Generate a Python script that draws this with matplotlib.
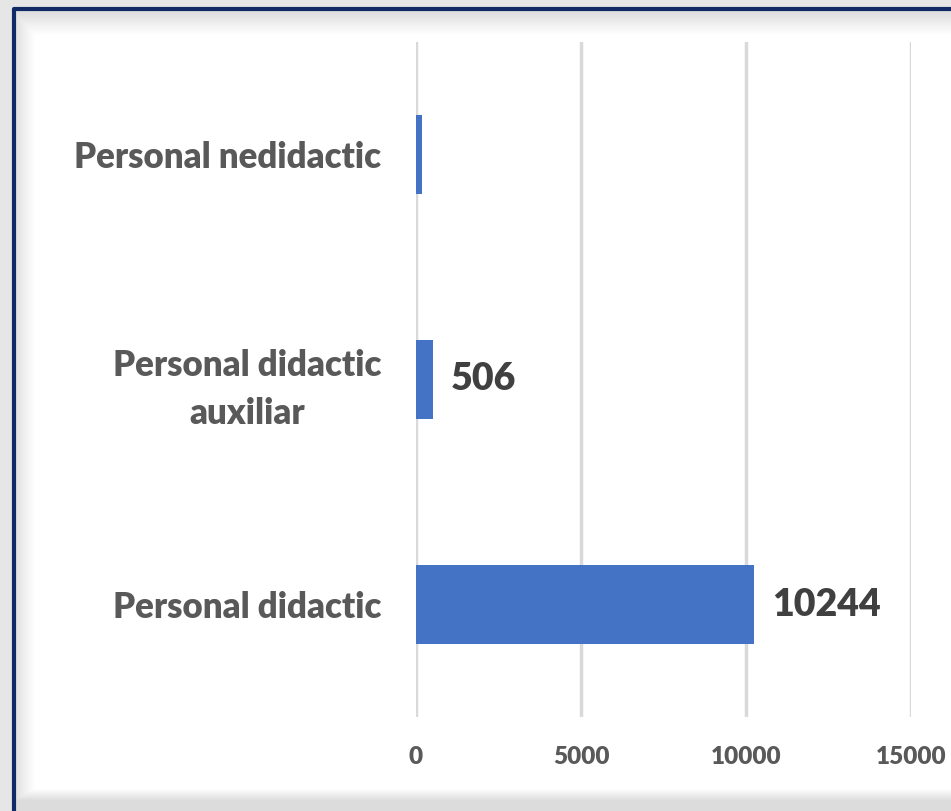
"""Horizontal bar chart: personal didactic / auxiliar / nedidactic."""
import matplotlib.pyplot as plt
import numpy as np

categories = ['Personal didactic', 'Personal didactic\nauxiliar', 'Personal nedidactic']
values = [10244, 506, 170]
value_labels = ['10244', '506', None]
x_ticks = [0, 5000, 10000, 15000]

W, H = 951, 811
fig = plt.figure(figsize=(W / 100, H / 100), dpi=100)
fig.patch.set_facecolor('#e4e4e4')

# background: frame with soft inner shadow
bg = fig.add_axes([0, 0, 1, 1])
bg.set_xlim(0, W)
bg.set_ylim(H, 0)
bg.axis('off')
yy, xx = np.mgrid[0:H, 0:W]
shade = np.ones((H, W))
shade = np.minimum(shade, 0.86 + 0.14 * np.clip((yy - 10) / 25, 0, 1))
shade = np.minimum(shade, 0.88 + 0.12 * np.clip((xx - 15) / 20, 0, 1))
shade = np.minimum(shade, 0.86 + 0.14 * np.clip((800 - yy) / 12, 0, 1))
outer = (xx < 13) | (yy < 8)
shade[outer] = 0.9
bg.imshow(shade, cmap='gray', vmin=0, vmax=1, extent=[0, W, H, 0], aspect='auto')
bg.plot([13.5, 13.5, W + 5], [H + 5, 8.5, 8.5], color='#0f2a64', lw=3, solid_capstyle='butt')

# plot area
left, right = 416 / W, 911 / W
top, bottom = 1 - 42 / H, 1 - 717 / H
ax = fig.add_axes([left, bottom, right - left, top - bottom])
ax.patch.set_alpha(0)

pos = np.arange(len(categories))
ax.barh(pos, values, height=0.355, color='#4472c4', zorder=3)
ax.set_xlim(0, 15000)
ax.set_ylim(-0.5, 2.5)
ax.set_xticks(x_ticks)
ax.set_xticklabels([str(t) for t in x_ticks], family='Lato', fontweight='heavy',
                   fontsize=17.5, color='#595959')
ax.set_yticks(pos)
ax.set_yticklabels(categories, family='Lato', fontweight='heavy', fontsize=25,
                   color='#595959', linespacing=1.52, multialignment='center')
ax.tick_params(axis='both', length=0)
ax.tick_params(axis='y', pad=25)
ax.tick_params(axis='x', pad=21)
ax.grid(axis='x', color='#d9d9d9', lw=2.5, zorder=0)
for s in ax.spines.values():
    s.set_visible(False)

for p, v, lab in zip(pos, values, value_labels):
    if lab:
        ax.annotate(lab, (v, p), xytext=(13, 0), textcoords='offset points',
                    va='center', ha='left', family='Lato', fontweight='heavy',
                    fontsize=27, color='#404040')

fig.savefig('out.png', dpi=100)
